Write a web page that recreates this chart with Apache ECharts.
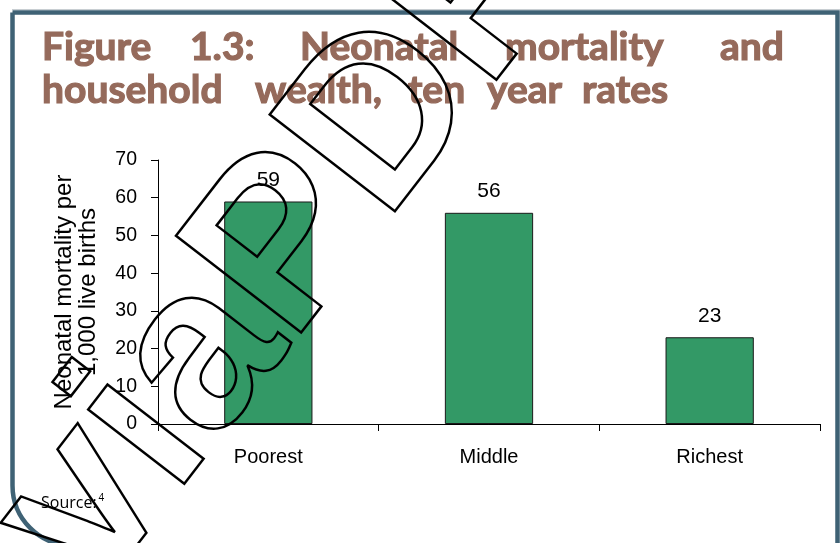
<!DOCTYPE html>
<html>
<head>
<meta charset="utf-8">
<script src="https://cdn.jsdelivr.net/npm/echarts@6/dist/echarts.min.js"></script>
<style>
  html, body { margin: 0; padding: 0; background: #fff; }
  #chart { width: 840px; height: 543px; }
</style>
</head>
<body>
<div id="chart"></div>
<script>
// data
const categories = ['Poorest', 'Middle', 'Richest'];
const rates = [59, 56, 23];
const yTicks = [0, 10, 20, 30, 40, 50, 60, 70];

const titleLine1 = ['Figure', '1.3:', 'Neonatal', 'mortality', 'and'];
const titleLine2 = ['household', 'wealth,', 'ten', 'year', 'rates'];
// left edge of each title word
const line1X = [42, 190, 300, 505, 720];
const line2X = [42, 255, 408, 487, 582];

const titleColor = '#956a5b';
const frameColor = '#3f6275';
const titleFont = 'Lato, "Open Sans", sans-serif';

const chart = echarts.init(document.getElementById('chart'));

function titleWords(words, xs, y) {
    return words.map((w, i) => ({
        type: 'text',
        x: xs[i],
        y: y,
        style: {
            text: w,
            fill: titleColor,
            // a thin stroke in the same colour to get the heavier look of the original
            stroke: titleColor,
            lineWidth: 1.2,
            font: 'bold 39px ' + titleFont,
            align: 'left',
            verticalAlign: 'middle'
        }
    }));
}

const graphic = [
    {
        type: 'line',
        shape: {x1: 12, y1: 9.5, x2: 840, y2: 9.5},
        style: {stroke: '#c8ced2', lineWidth: 1}
    },
    {
        type: 'rect',
        shape: {x: 12.5, y: 12.5, width: 825, height: 533, r: [0, 0, 0, 60]},
        style: {fill: 'none', stroke: frameColor, lineWidth: 4.5},
        z: 0
    },
    ...titleWords(titleLine1, line1X, 47),
    ...titleWords(titleLine2, line2X, 90),
    {
        type: 'text',
        x: 41,
        y: 503,
        style: {
            text: '{a|Source:}{s|4}',
            verticalAlign: 'middle',
            rich: {
                a: {fontSize: 16, fontFamily: '"Open Sans", sans-serif', fill: '#000'},
                s: {fontSize: 10, fontFamily: '"Open Sans", sans-serif', fill: '#000', padding: [0, 0, 10, 2]}
            }
        }
    },
    {
        // outlined watermark over the page
        type: 'text',
        x: 46,
        y: 559,
        rotation: 52.3 * Math.PI / 180,
        z: 100,
        style: {
            text: 'viaPDF',
            font: 'bold 230px "Liberation Sans", Arial, sans-serif',
            fill: 'none',
            stroke: '#000',
            lineWidth: 2.5,
            align: 'left',
            verticalAlign: 'middle'
        }
    }
];

const option = {
    animation: false,
    textStyle: {fontFamily: '"Liberation Sans", Arial, sans-serif'},
    grid: {left: 158, right: 20, top: 160, bottom: 119},
    xAxis: {
        type: 'category',
        data: categories,
        axisLine: {lineStyle: {color: '#000', width: 1}},
        axisTick: {show: true, length: 7, lineStyle: {color: '#000'}},
        axisLabel: {color: '#000', fontSize: 20, margin: 23}
    },
    yAxis: {
        type: 'value',
        min: yTicks[0],
        max: yTicks[yTicks.length - 1],
        interval: 10,
        name: 'Neonatal mortality per\n1,000 live births',
        nameLocation: 'middle',
        nameGap: 58,
        nameTextStyle: {color: '#000', fontSize: 24, lineHeight: 24},
        axisLine: {show: true, lineStyle: {color: '#000', width: 1}},
        axisTick: {show: true, length: 7, lineStyle: {color: '#000'}},
        axisLabel: {color: '#000', fontSize: 19.5, margin: 21},
        splitLine: {show: false}
    },
    series: [{
        type: 'bar',
        data: rates,
        barWidth: '40%',
        itemStyle: {color: '#339966', borderColor: '#1a1a1a', borderWidth: 1},
        label: {show: true, position: 'top', distance: 11, color: '#000', fontSize: 21}
    }],
    graphic: graphic
};

chart.setOption(option);
</script>
</body>
</html>
